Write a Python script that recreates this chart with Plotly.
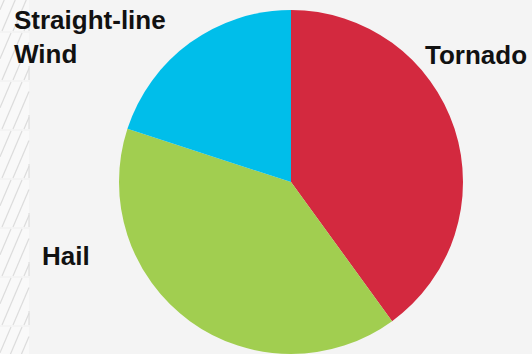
import plotly.graph_objects as go

# Data
categories = ["Tornado", "Hail", "Straight-line Wind"]
values = [40, 40, 20]
colors = ["#D3293F", "#A1CE50", "#00BEEA"]

W, H = 532, 354
BG = "#F4F4F4"

def px(x):
    return x / W

def py(y):
    return 1 - y / H

# Pie placement (pixels)
cx, cy, r = 291, 182, 172

fig = go.Figure()
fig.add_trace(go.Pie(
    labels=categories,
    values=values,
    marker=dict(colors=colors, line=dict(width=0)),
    sort=False,
    direction="clockwise",
    rotation=0,
    textinfo="none",
    hoverinfo="label+percent",
    showlegend=False,
    domain=dict(x=[px(cx - r), px(cx + r)], y=[py(cy + r), py(cy - r)]),
))

# Decorative hatched strip on the left
shapes = []
cell_w = 29
cell_tops = [-16, 33, 82, 131, 180, 229, 278, 327]
cell_h = 47
for top in cell_tops:
    bot = top + cell_h
    shapes.append(dict(type="rect", xref="paper", yref="paper",
                       x0=px(0), x1=px(cell_w), y0=py(bot), y1=py(top),
                       fillcolor="#F9F9F9", line=dict(width=0), layer="below"))
    shapes.append(dict(type="line", xref="paper", yref="paper",
                       x0=px(cell_w), x1=px(cell_w), y0=py(bot), y1=py(bot - 14),
                       line=dict(color="#D8D8D8", width=1)))
    dx_span = 20.0
    for o in range(-20, 30, 11):
        x0, y0 = o, bot
        x1, y1 = o + dx_span, top

        def at_x(x, x0=x0, y0=y0, x1=x1, y1=y1):
            t = (x - x0) / (x1 - x0)
            return y0 + t * (y1 - y0)
        sx0, sy0, sx1, sy1 = x0, y0, x1, y1
        if sx0 < 0:
            sx0, sy0 = 0, at_x(0)
        if sx1 > cell_w:
            sx1, sy1 = cell_w, at_x(cell_w)
        if sx1 <= sx0:
            continue
        shapes.append(dict(type="line", xref="paper", yref="paper",
                           x0=px(sx0), x1=px(sx1), y0=py(sy0), y1=py(sy1),
                           line=dict(color="#DCDCDC", width=1.2)))

label_font = dict(family="Arial, Liberation Sans, sans-serif", size=26, color="#111111")
annotations = [
    dict(text="<b>Straight-line<br>Wind</b>", x=px(12), y=py(37), xref="paper", yref="paper",
         xanchor="left", yanchor="middle", align="left", showarrow=False, font=label_font),
    dict(text="<b>Tornado</b>", x=px(423), y=py(55), xref="paper", yref="paper",
         xanchor="left", yanchor="middle", align="left", showarrow=False, font=label_font),
    dict(text="<b>Hail</b>", x=px(40), y=py(256), xref="paper", yref="paper",
         xanchor="left", yanchor="middle", align="left", showarrow=False, font=label_font),
]

fig.update_layout(
    width=W, height=H,
    margin=dict(l=0, r=0, t=0, b=0),
    paper_bgcolor=BG,
    plot_bgcolor=BG,
    shapes=shapes,
    annotations=annotations,
)

fig.write_html("out.html",
               config={"displayModeBar": False},
               post_script="document.body.style.margin='0';document.body.style.overflow='hidden';document.body.style.background='#F4F4F4';")
